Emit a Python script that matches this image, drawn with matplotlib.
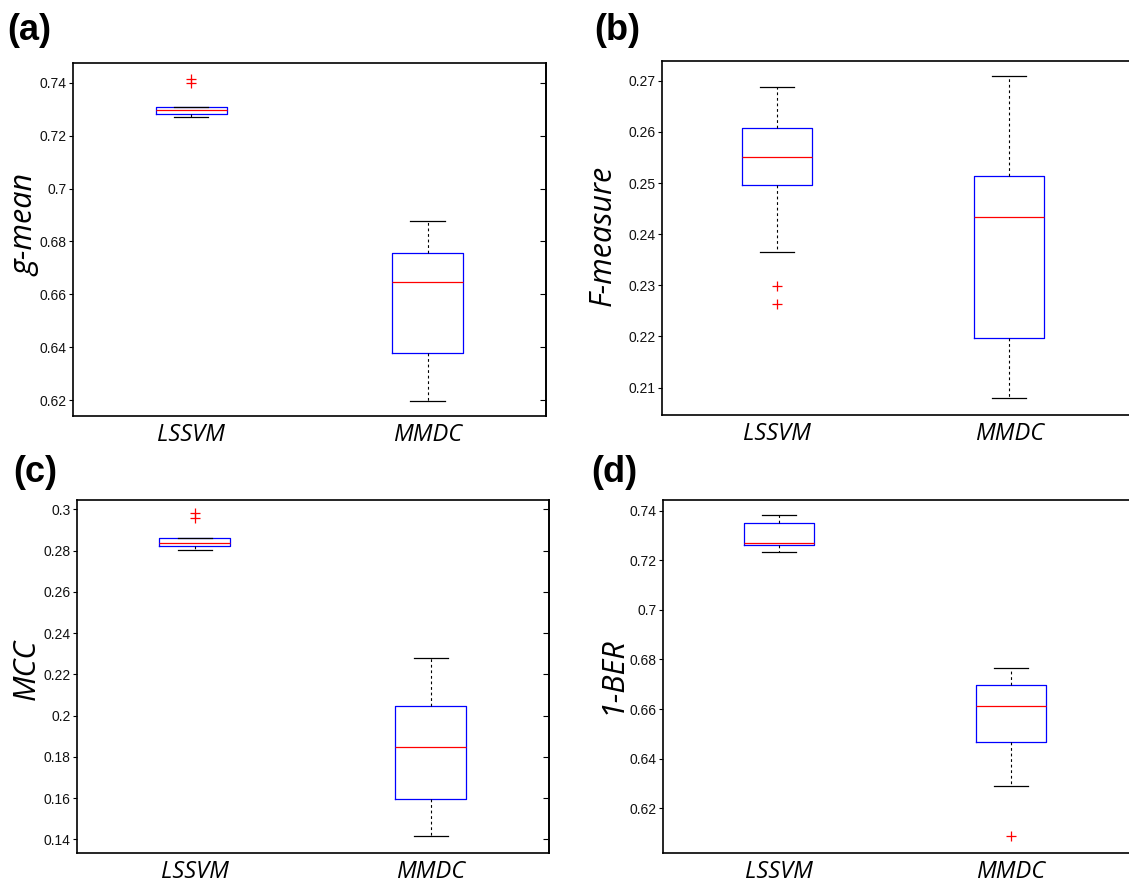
import matplotlib
matplotlib.use("Agg")
import matplotlib.pyplot as plt
from matplotlib.ticker import FixedLocator, FixedFormatter

# ---------------- data ----------------
methods = ["LSSVM", "MMDC"]

gmean_whislo = [0.7270, 0.6196]
gmean_q1 = [0.7283, 0.6378]
gmean_med = [0.7299, 0.6648]
gmean_q3 = [0.7307, 0.6755]
gmean_whishi = [0.7308, 0.6876]
gmean_fliers = [[0.7414, 0.7401], []]
gmean_ticks = [0.62, 0.64, 0.66, 0.68, 0.70, 0.72, 0.74]
gmean_ticklabels = ["0.62", "0.64", "0.66", "0.68", "0.7", "0.72", "0.74"]

fmeas_whislo = [0.2366, 0.2079]
fmeas_q1 = [0.2496, 0.2197]
fmeas_med = [0.2551, 0.2434]
fmeas_q3 = [0.2608, 0.2513]
fmeas_whishi = [0.2687, 0.2709]
fmeas_fliers = [[0.2298, 0.2264], []]
fmeas_ticks = [0.21, 0.22, 0.23, 0.24, 0.25, 0.26, 0.27]
fmeas_ticklabels = ["0.21", "0.22", "0.23", "0.24", "0.25", "0.26", "0.27"]

mcc_whislo = [0.2801, 0.1415]
mcc_q1 = [0.2822, 0.1594]
mcc_med = [0.2838, 0.1848]
mcc_q3 = [0.2859, 0.2046]
mcc_whishi = [0.2860, 0.2279]
mcc_fliers = [[0.2981, 0.2957], []]
mcc_ticks = [0.14, 0.16, 0.18, 0.20, 0.22, 0.24, 0.26, 0.28, 0.30]
mcc_ticklabels = ["0.14", "0.16", "0.18", "0.2", "0.22", "0.24", "0.26", "0.28", "0.3"]

ber_whislo = [0.7235, 0.6288]
ber_q1 = [0.7262, 0.6469]
ber_med = [0.7271, 0.6614]
ber_q3 = [0.7349, 0.6696]
ber_whishi = [0.7384, 0.6766]
ber_fliers = [[], [0.6087]]
ber_ticks = [0.62, 0.64, 0.66, 0.68, 0.70, 0.72, 0.74]
ber_ticklabels = ["0.62", "0.64", "0.66", "0.68", "0.7", "0.72", "0.74"]

# ---------------- layout ----------------
W, H = 1129, 885
fig = plt.figure(figsize=(W / 100, H / 100), dpi=100)
fig.patch.set_facecolor("white")


def px_rect(left, right, top, bottom):
    return [left / W, 1 - bottom / H, (right - left) / W, (bottom - top) / H]


panels = [
    dict(rect=px_rect(73.2, 545.7, 62.7, 416.0), xlim=(0.5, 2.5), ylim=(0.614, 0.7476),
         stats=(gmean_whislo, gmean_q1, gmean_med, gmean_q3, gmean_whishi, gmean_fliers),
         ticks=gmean_ticks, ticklabels=gmean_ticklabels, ylabel="g-mean",
         ylab_xy=(25, 225), tag="(a)", tag_xy=(7, 40), right_ticks=True),
    dict(rect=px_rect(661.8, 1131, 61.3, 414.7), xlim=(0.503, 2.525), ylim=(0.2047, 0.2738),
         stats=(fmeas_whislo, fmeas_q1, fmeas_med, fmeas_q3, fmeas_whishi, fmeas_fliers),
         ticks=fmeas_ticks, ticklabels=fmeas_ticklabels, ylabel="F-measure",
         ylab_xy=(603, 235), tag="(b)", tag_xy=(594, 40), right_ticks=False),
    dict(rect=px_rect(76.8, 548.6, 499.7, 852.7), xlim=(0.5, 2.5), ylim=(0.1335, 0.3047),
         stats=(mcc_whislo, mcc_q1, mcc_med, mcc_q3, mcc_whishi, mcc_fliers),
         ticks=mcc_ticks, ticklabels=mcc_ticklabels, ylabel="MCC",
         ylab_xy=(27, 669), tag="(c)", tag_xy=(13, 482), right_ticks=True),
    dict(rect=px_rect(663.2, 1131, 499.7, 852.7), xlim=(0.501, 2.518), ylim=(0.6021, 0.7444),
         stats=(ber_whislo, ber_q1, ber_med, ber_q3, ber_whishi, ber_fliers),
         ticks=ber_ticks, ticklabels=ber_ticklabels, ylabel="1-BER",
         ylab_xy=(613, 675), tag="(d)", tag_xy=(591, 482), right_ticks=False),
]

for p in panels:
    ax = fig.add_axes(p["rect"])
    wlo, q1, med, q3, whi, fl = p["stats"]
    bxp_stats = []
    for i, name in enumerate(methods):
        bxp_stats.append(dict(label=name, whislo=wlo[i], q1=q1[i], med=med[i],
                              q3=q3[i], whishi=whi[i], fliers=fl[i]))
    ax.bxp(bxp_stats, positions=[1, 2], widths=0.3, capwidths=0.145,
           showfliers=True, patch_artist=False,
           boxprops=dict(color="#0000ff", linewidth=0.9),
           medianprops=dict(color="#ff0000", linewidth=0.9),
           whiskerprops=dict(color="black", linewidth=0.8, linestyle=(0, (2.5, 2.5))),
           capprops=dict(color="black", linewidth=0.9),
           flierprops=dict(marker="+", markeredgecolor="#ff0000", markerfacecolor="none",
                           markersize=7, markeredgewidth=0.9, linestyle="none"))
    ax.set_xlim(*p["xlim"])
    ax.set_ylim(*p["ylim"])
    ax.yaxis.set_major_locator(FixedLocator(p["ticks"]))
    ax.yaxis.set_major_formatter(FixedFormatter(p["ticklabels"]))
    ax.tick_params(axis="y", direction="out", length=3.0, width=0.8, pad=1.5,
                   labelsize=10, labelcolor="#111111")
    ax.set_xticks([1, 2])
    ax.set_xticklabels(methods, fontfamily="Open Sans", fontstyle="italic", fontsize=17)
    ax.tick_params(axis="x", length=0, pad=5)
    for lab in ax.get_yticklabels():
        lab.set_fontfamily("Liberation Sans")
    for s in ax.spines.values():
        s.set_linewidth(1.2)
        s.set_color("black")
    if p["right_ticks"]:
        sec = ax.secondary_yaxis("right")
        sec.yaxis.set_major_locator(FixedLocator(p["ticks"]))
        sec.tick_params(axis="y", direction="in", length=4, width=0.8, labelright=False)
        sec.spines["right"].set_linewidth(1.2)

    fig.text(p["ylab_xy"][0] / W, 1 - p["ylab_xy"][1] / H, p["ylabel"], rotation=90,
             ha="center", va="center", fontfamily="Open Sans", fontstyle="italic",
             fontsize=22)
    fig.text(p["tag_xy"][0] / W, 1 - p["tag_xy"][1] / H, p["tag"], ha="left",
             va="baseline", fontfamily="Liberation Sans", fontweight="bold", fontsize=26)

fig.savefig("out.png", dpi=100, facecolor="white")
